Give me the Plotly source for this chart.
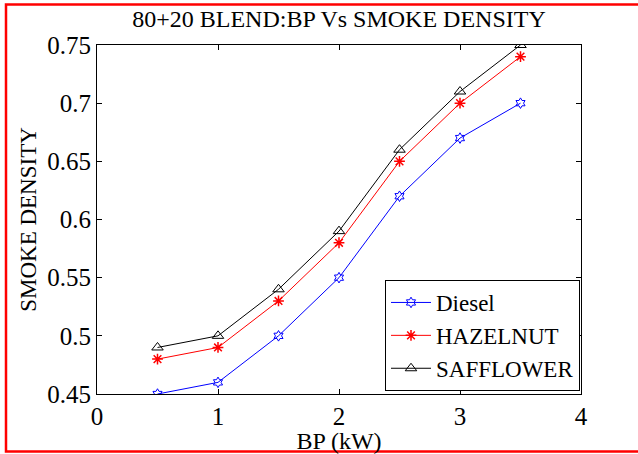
import plotly.graph_objects as go

bp = [0.5, 1.0, 1.5, 2.0, 2.5, 3.0, 3.5]
diesel = [0.45, 0.46, 0.50, 0.55, 0.62, 0.67, 0.70]
hazelnut = [0.48, 0.49, 0.53, 0.58, 0.65, 0.70, 0.74]
safflower = [0.49, 0.50, 0.54, 0.59, 0.66, 0.71, 0.75]
x_ticks = [0, 1, 2, 3, 4]
y_ticks = [0.45, 0.5, 0.55, 0.6, 0.65, 0.7, 0.75]
y_tick_text = ["0.45", "0.5", "0.55", "0.6", "0.65", "0.7", "0.75"]

FONT = "Liberation Serif"

fig = go.Figure()
fig.add_trace(go.Scatter(x=bp, y=diesel, name="Diesel", mode="lines+markers",
                         line=dict(color="#0000ff", width=1),
                         marker=dict(symbol="hexagram-open", size=8, color="#0000ff",
                                     line=dict(width=1, color="#0000ff"))))
fig.add_trace(go.Scatter(x=bp, y=hazelnut, name="HAZELNUT", mode="lines+markers",
                         line=dict(color="#ff0000", width=1),
                         marker=dict(symbol="asterisk-open", size=9, color="#ff0000",
                                     line=dict(width=1.5, color="#ff0000"))))
fig.add_trace(go.Scatter(x=bp, y=safflower, name="SAFFLOWER", mode="lines+markers",
                         line=dict(color="#000000", width=1),
                         marker=dict(symbol="triangle-up-open", size=10, color="#000000",
                                     line=dict(width=1, color="#000000"))))

L, R, T, B = 97, 57, 45, 60
W, H = 638, 454
pw, ph = W - L - R, H - T - B

fig.update_layout(
    width=W, height=H,
    margin=dict(l=L, r=R, t=T, b=B, pad=0, autoexpand=False),
    paper_bgcolor="white", plot_bgcolor="white",
    font=dict(family=FONT, color="black", size=24),
    title=dict(text="80+20 BLEND:BP Vs SMOKE DENSITY", x=(L + pw / 2) / W, xanchor="center",
               y=1 - 19 / H, yanchor="middle", font=dict(family=FONT, size=24)),
    xaxis=dict(range=[0, 4], tickvals=x_ticks, ticks="inside", ticklen=5, tickcolor="black",
               showline=True, linecolor="black", linewidth=1, mirror="ticks", showgrid=False,
               zeroline=False, tickfont=dict(family=FONT, size=25), automargin=False,
               title=dict(text="BP (kW)", font=dict(family=FONT, size=24), standoff=4)),
    yaxis=dict(range=[0.45, 0.75], tickvals=y_ticks, ticktext=y_tick_text, ticks="inside",
               ticklen=5, tickcolor="black", automargin=False,
               showline=True, linecolor="black", linewidth=1, mirror="ticks", showgrid=False,
               zeroline=False, tickfont=dict(family=FONT, size=25),
               title=dict(text="SMOKE DENSITY", font=dict(family=FONT, size=23), standoff=4)),
    legend=dict(x=(580 - L) / pw, xanchor="right", y=(H - B - 391) / ph, yanchor="bottom",
                bordercolor="black", borderwidth=1, bgcolor="white",
                font=dict(family=FONT, size=23), tracegroupgap=0, itemwidth=40),
    showlegend=True,
)

fig.add_shape(type="rect", xref="paper", yref="paper",
              x0=(6 - L) / pw, x1=(645 - L) / pw,
              y0=(H - B - 451.5) / ph, y1=(H - B - 4.5) / ph,
              line=dict(color="#ff0000", width=2.5), fillcolor="rgba(0,0,0,0)", layer="below")

fig.write_html("out.html")
